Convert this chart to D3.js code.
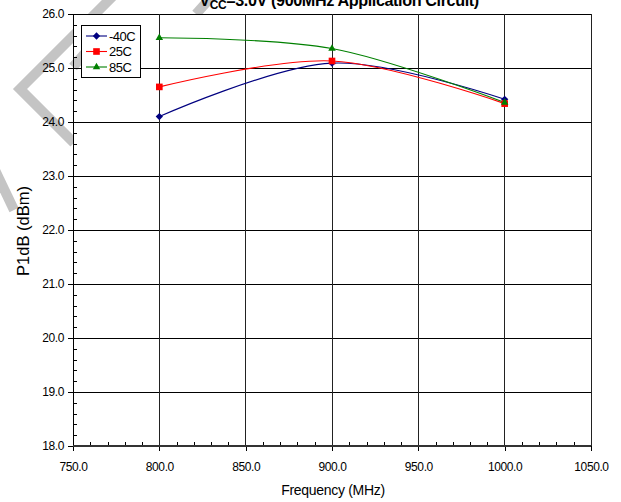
<!DOCTYPE html>
<html lang="en">
<head>
<meta charset="UTF-8">
<title>P1dB vs Frequency</title>
<script src="https://cdn.jsdelivr.net/npm/d3@7/dist/d3.min.js"></script>
<style>
  * { margin: 0; padding: 0; box-sizing: border-box; }
  body { background: #fff; width: 621px; height: 502px; overflow: hidden; }
  svg { display: block; font-family: 'Liberation Sans', Arial, sans-serif; }
  .tick text { font-size: 12px; fill: #000; letter-spacing: -0.4px; }
  .tick line { stroke: #000; }
  .domain { display: none; }
</style>
</head>
<body>
<svg id="chart" width="621" height="502"></svg>
<script>
// ─── Data ────────────────────────────────────────────────────────────────────
const freqs      = [800, 900, 1000];              // MHz
const seriesM40  = [24.10, 25.09, 24.42];         // -40C
const series25   = [24.65, 25.13, 24.34];         // 25C
const series85   = [25.56, 25.36, 24.36];         // 85C
const seriesNames = ['-40C', '25C', '85C'];

const xTicks = [750, 800, 850, 900, 950, 1000, 1050];
const yTicks = [18, 19, 20, 21, 22, 23, 24, 25, 26];

// ─── Layout ──────────────────────────────────────────────────────────────────
const plot = { left: 73, right: 591, top: 14, bottom: 446 };

const svg = d3.select('#chart');

const x = d3.scaleLinear().domain([750, 1050]).range([plot.left, plot.right]);
const y = d3.scaleLinear().domain([18, 26]).range([plot.bottom, plot.top]);

// faint watermark strokes behind the plot
const wm = svg.append('g').attr('fill', 'none').attr('stroke', '#c4c4c4')
  .attr('stroke-width', 10).attr('stroke-linejoin', 'miter');
wm.append('path').attr('d', 'M113,-4 L20,89 L74,143');
wm.append('path').attr('d', 'M-6,168 L14,210');
wm.append('path').attr('d', 'M214,-6 L196,14');

svg.append('rect')
  .attr('x', plot.left).attr('y', plot.top)
  .attr('width', plot.right - plot.left).attr('height', plot.bottom - plot.top)
  .attr('fill', '#fff');

svg.append('path').attr('d', 'M86,52 L73,67')
  .attr('stroke', '#c4c4c4').attr('stroke-width', 10).attr('fill', 'none');

// ─── Grid ────────────────────────────────────────────────────────────────────
const grid = svg.append('g').attr('shape-rendering', 'crispEdges');
grid.selectAll('line.h').data(yTicks.filter(d => d > 18)).enter().append('line')
  .attr('class', 'h')
  .attr('x1', plot.left).attr('x2', plot.right)
  .attr('y1', d => y(d)).attr('y2', d => y(d))
  .attr('stroke', '#000').attr('stroke-width', 1);
grid.selectAll('line.v').data(xTicks.filter(d => d > 750)).enter().append('line')
  .attr('class', 'v')
  .attr('y1', plot.top).attr('y2', plot.bottom)
  .attr('x1', d => x(d)).attr('x2', d => x(d))
  .attr('stroke', '#222').attr('stroke-width', 1);

// ─── Axes ────────────────────────────────────────────────────────────────────
const fmt = d3.format('.1f');

const yMinor = d3.range(18, 26.001, 0.2).filter(v => Math.abs(v - Math.round(v)) > 0.01);
svg.append('g')
  .attr('transform', `translate(${plot.left},0)`)
  .attr('shape-rendering', 'crispEdges')
  .call(d3.axisRight(y).tickValues(yMinor).tickSize(4).tickFormat(''));
svg.append('g')
  .attr('transform', `translate(${plot.left},0)`)
  .attr('shape-rendering', 'crispEdges')
  .call(d3.axisLeft(y).tickValues(yTicks).tickSize(5).tickPadding(4).tickFormat(fmt));

const xMinor = d3.range(750, 1050.1, 10).filter(v => v % 50 !== 0);
svg.append('g')
  .attr('transform', `translate(0,${plot.bottom})`)
  .attr('shape-rendering', 'crispEdges')
  .call(d3.axisTop(x).tickValues(xMinor).tickSize(4).tickFormat(''));
svg.append('g')
  .attr('transform', `translate(0,${plot.bottom})`)
  .attr('shape-rendering', 'crispEdges')
  .call(d3.axisBottom(x).tickValues(xTicks).tickSize(5).tickPadding(11).tickFormat(fmt));

// axis lines
svg.append('line')
  .attr('x1', plot.left).attr('x2', plot.left).attr('y1', plot.top).attr('y2', plot.bottom)
  .attr('stroke', '#000').attr('shape-rendering', 'crispEdges');
svg.append('line')
  .attr('x1', plot.left).attr('x2', plot.right).attr('y1', plot.bottom).attr('y2', plot.bottom)
  .attr('stroke', '#333').attr('stroke-width', 2).attr('shape-rendering', 'crispEdges');

// ─── Series ──────────────────────────────────────────────────────────────────
const series = [
  { name: seriesNames[0], values: seriesM40, color: '#000080', symbol: d3.symbolDiamond2, size: 34 },
  { name: seriesNames[1], values: series25,  color: '#ff0000', symbol: d3.symbolSquare2,  size: 56 },
  { name: seriesNames[2], values: series85,  color: '#008000', symbol: d3.symbolTriangle2, size: 40 },
];

const line = d3.line()
  .x((d, i) => x(freqs[i]))
  .y(d => y(d))
  .curve(d3.curveCatmullRom.alpha(0.5));

const sg = svg.append('g');
series.forEach(s => {
  sg.append('path')
    .datum(s.values)
    .attr('d', line)
    .attr('fill', 'none')
    .attr('stroke', s.color)
    .attr('stroke-width', 1.1);
});
series.forEach(s => {
  sg.selectAll(null).data(s.values).enter().append('path')
    .attr('transform', (d, i) => `translate(${x(freqs[i])},${y(d)})`)
    .attr('d', d3.symbol().type(s.symbol).size(s.size))
    .attr('fill', s.color);
});

// ─── Legend ──────────────────────────────────────────────────────────────────
const lg = svg.append('g').attr('transform', 'translate(81,25)');
lg.append('rect')
  .attr('x', 0.5).attr('y', 0.5).attr('width', 59).attr('height', 52)
  .attr('fill', '#fff').attr('stroke', '#000');
series.forEach((s, i) => {
  const cy = 11 + i * 15.5;
  lg.append('line').attr('x1', 5).attr('x2', 26).attr('y1', cy).attr('y2', cy)
    .attr('stroke', s.color).attr('stroke-width', 1.1);
  lg.append('path')
    .attr('transform', `translate(15.5,${cy})`)
    .attr('d', d3.symbol().type(s.symbol).size(s.size))
    .attr('fill', s.color);
  lg.append('text').attr('x', 28).attr('y', cy + 4.5)
    .attr('font-size', 13).attr('letter-spacing', -0.5)
    .text(s.name);
});

// ─── Titles ──────────────────────────────────────────────────────────────────
// title sits partly above the top edge, as in the source image
const title = svg.append('text')
  .attr('x', 339).attr('y', 6)
  .attr('text-anchor', 'middle')
  .attr('font-size', 16.2).attr('font-weight', 'bold').attr('letter-spacing', -0.4);
title.append('tspan').text('V');
title.append('tspan').attr('font-size', 12).attr('dy', 3).text('CC');
title.append('tspan').attr('dy', -3).text('=3.0V (900MHz Application Circuit)');

svg.append('text')
  .attr('x', 333).attr('y', 495)
  .attr('text-anchor', 'middle')
  .attr('font-size', 14).attr('letter-spacing', -0.3)
  .text('Frequency (MHz)');

svg.append('text')
  .attr('transform', 'translate(29,231) rotate(-90)')
  .attr('text-anchor', 'middle')
  .attr('font-size', 16.5)
  .text('P1dB (dBm)');
</script>
</body>
</html>
